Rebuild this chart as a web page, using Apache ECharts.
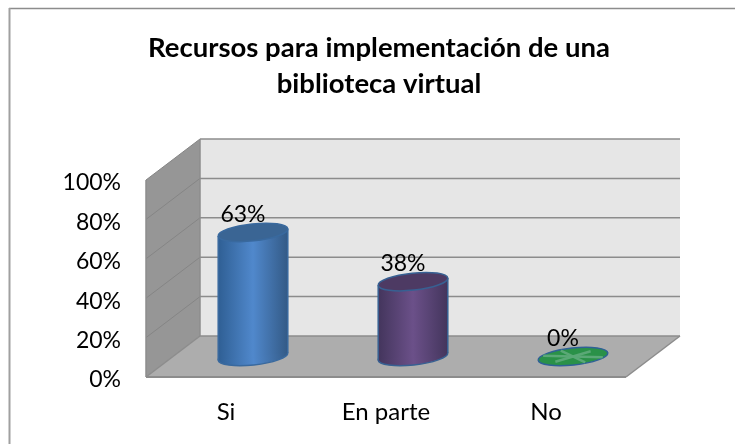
<!DOCTYPE html>
<html>
<head>
<meta charset="utf-8">
<script src="https://cdn.jsdelivr.net/npm/echarts@6/dist/echarts.min.js"></script>
<style>
  html, body { margin: 0; padding: 0; background: #fff; }
  #chart { width: 735px; height: 444px; }
</style>
</head>
<body>
<div id="chart"></div>
<script>
const titleText = 'Recursos para implementación de una\nbiblioteca virtual'
const categories = ['Si', 'En parte', 'No']
const values = [63, 38, 0]
const yTicks = [0, 20, 40, 60, 80, 100]

const barColors = [
  { edge: '#2f5f94', mid: '#5088cc', dark: '#335a86', top: '#3a6594', line: '#39699e' },
  { edge: '#43355c', mid: '#6b5089', dark: '#43355c', top: '#4d3a63', line: '#376092' },
  { edge: '#2a9148', mid: '#2a9148', dark: '#2a9148', top: '#2a9148', line: '#2f6196' }
]

// depth of the fake 3d box, in pixels
const DX = 54
const DY = 41
const RX = 35
const RY = 8.5
const TILT = 6 * Math.PI / 180

const chart = echarts.init(document.getElementById('chart'))

function renderBox (params, api) {
  const p0 = api.coord([0, 0])
  const p100 = api.coord([0, 100])
  const x0 = params.coordSys.x
  const x1 = x0 + params.coordSys.width
  const lineStyle = { stroke: '#8c8c8c', lineWidth: 1.5 }
  const children = [
    { type: 'polygon', shape: { points: [[x0 + DX, p100[1] - DY], [x1 + DX, p100[1] - DY], [x1 + DX, p0[1] - DY], [x0 + DX, p0[1] - DY]] }, style: { fill: '#e6e6e6' } },
    { type: 'polygon', shape: { points: [[x0, p100[1]], [x0 + DX, p100[1] - DY], [x0 + DX, p0[1] - DY], [x0, p0[1]]] }, style: { fill: '#969696' } },
    { type: 'polygon', shape: { points: [[x0, p0[1]], [x0 + DX, p0[1] - DY], [x1 + DX, p0[1] - DY], [x1, p0[1]]] }, style: { fill: '#adadad' } }
  ]
  yTicks.forEach(t => {
    const y = api.coord([0, t])[1]
    children.push({ type: 'line', shape: { x1: x0, y1: y, x2: x0 + DX, y2: y - DY }, style: t === 0 ? lineStyle : { stroke: '#858585', lineWidth: 1 } })
    children.push({ type: 'line', shape: { x1: x0 + DX, y1: y - DY, x2: x1 + DX, y2: y - DY }, style: lineStyle })
  })
  children.push({ type: 'line', shape: { x1: x0, y1: p100[1], x2: x0, y2: p0[1] }, style: lineStyle })
  children.push({ type: 'line', shape: { x1: x0, y1: p0[1], x2: x1, y2: p0[1] }, style: { stroke: '#8c8c8c', lineWidth: 2 } })
  children.push({ type: 'line', shape: { x1: x1, y1: p0[1], x2: x1 + DX, y2: p0[1] - DY }, style: lineStyle })
  children.push({ type: 'line', shape: { x1: x0 + DX, y1: p100[1] - DY, x2: x0 + DX, y2: p0[1] - DY }, style: lineStyle })
  return { type: 'group', children }
}

function renderCylinder (params, api) {
  const idx = api.value(0)
  const val = api.value(1)
  const base = api.coord([idx, 0])
  const top = api.coord([idx, val])
  const cx = base[0] + DX / 2
  const yb = base[1] - DY / 2
  const yt = top[1] - DY / 2
  const c = barColors[idx]
  const ex = RX * Math.cos(TILT)
  const ey = RX * Math.sin(TILT)
  const ellipse = (y, fill, stroke) => ({
    type: 'ellipse',
    x: cx,
    y: y,
    rotation: TILT,
    shape: { cx: 0, cy: 0, rx: RX, ry: RY },
    style: { fill, stroke, lineWidth: 1.5 }
  })
  const side = new echarts.graphic.LinearGradient(0, 0, 1, 0, [
    { offset: 0, color: c.edge },
    { offset: 0.5, color: c.mid },
    { offset: 1, color: c.dark }
  ])
  const children = []
  if (val > 0) {
    children.push(ellipse(yb, side, c.line))
    children.push({
      type: 'polygon',
      shape: { points: [[cx - ex, yt + ey], [cx + ex, yt - ey], [cx + ex, yb - ey], [cx - ex, yb + ey]] },
      style: { fill: side }
    })
    children.push({ type: 'line', shape: { x1: cx - ex, y1: yt + ey, x2: cx - ex, y2: yb + ey }, style: { stroke: c.line, lineWidth: 1.5 } })
    children.push({ type: 'line', shape: { x1: cx + ex, y1: yt - ey, x2: cx + ex, y2: yb - ey }, style: { stroke: c.line, lineWidth: 1.5 } })
    children.push(ellipse(yt, c.top, c.line))
  } else {
    children.push(ellipse(yt, c.top, c.line))
    // lighter spokes on the flat disc
    for (let i = 0; i < 3; i++) {
      const a = TILT + i * Math.PI / 3
      children.push({
        type: 'line',
        shape: { x1: cx - (RX - 5) * Math.cos(a), y1: yt - (RY - 2) * Math.sin(a), x2: cx + (RX - 5) * Math.cos(a), y2: yt + (RY - 2) * Math.sin(a) },
        style: { stroke: '#5aa876', lineWidth: 2.5 }
      })
    }
  }
  children.push({
    type: 'text',
    x: cx - 10,
    y: yt - 18,
    style: { text: val + '%', font: '23px Lato', fill: '#000', align: 'center', verticalAlign: 'middle' }
  })
  return { type: 'group', children }
}

chart.setOption({
  animation: false,
  backgroundColor: '#fff',
  title: {
    text: titleText,
    left: 374,
    top: 25,
    textAlign: 'center',
    textStyle: { fontFamily: 'Lato', fontSize: 27.5, fontWeight: 'bold', color: '#000', lineHeight: 36 }
  },
  grid: { left: 146, right: 109, top: 180, bottom: 67 },
  xAxis: {
    type: 'category',
    data: categories,
    axisLine: { show: false },
    axisTick: { show: false },
    axisLabel: { color: '#000', fontFamily: 'Lato', fontSize: 24, margin: 23 }
  },
  yAxis: {
    type: 'value',
    min: 0,
    max: 100,
    interval: 20,
    axisLine: { show: false },
    axisTick: { show: false },
    splitLine: { show: false },
    axisLabel: { color: '#000', fontFamily: 'Lato', fontSize: 23, margin: 25, verticalAlign: 'top', lineHeight: 6, formatter: '{value}%' }
  },
  graphic: [
    { type: 'line', silent: true, shape: { x1: 9, y1: 8.5, x2: 735, y2: 8.5 }, style: { stroke: '#8c8c8c', lineWidth: 1.5 } },
    { type: 'line', silent: true, shape: { x1: 9.5, y1: 8, x2: 9.5, y2: 444 }, style: { stroke: '#a0a0a0', lineWidth: 2 } }
  ],
  series: [
    { type: 'custom', silent: true, z: 1, renderItem: renderBox, data: [[0, 0]] },
    { type: 'custom', silent: true, z: 2, renderItem: renderCylinder, data: values.map((v, i) => [i, v]) }
  ]
})
</script>
</body>
</html>
